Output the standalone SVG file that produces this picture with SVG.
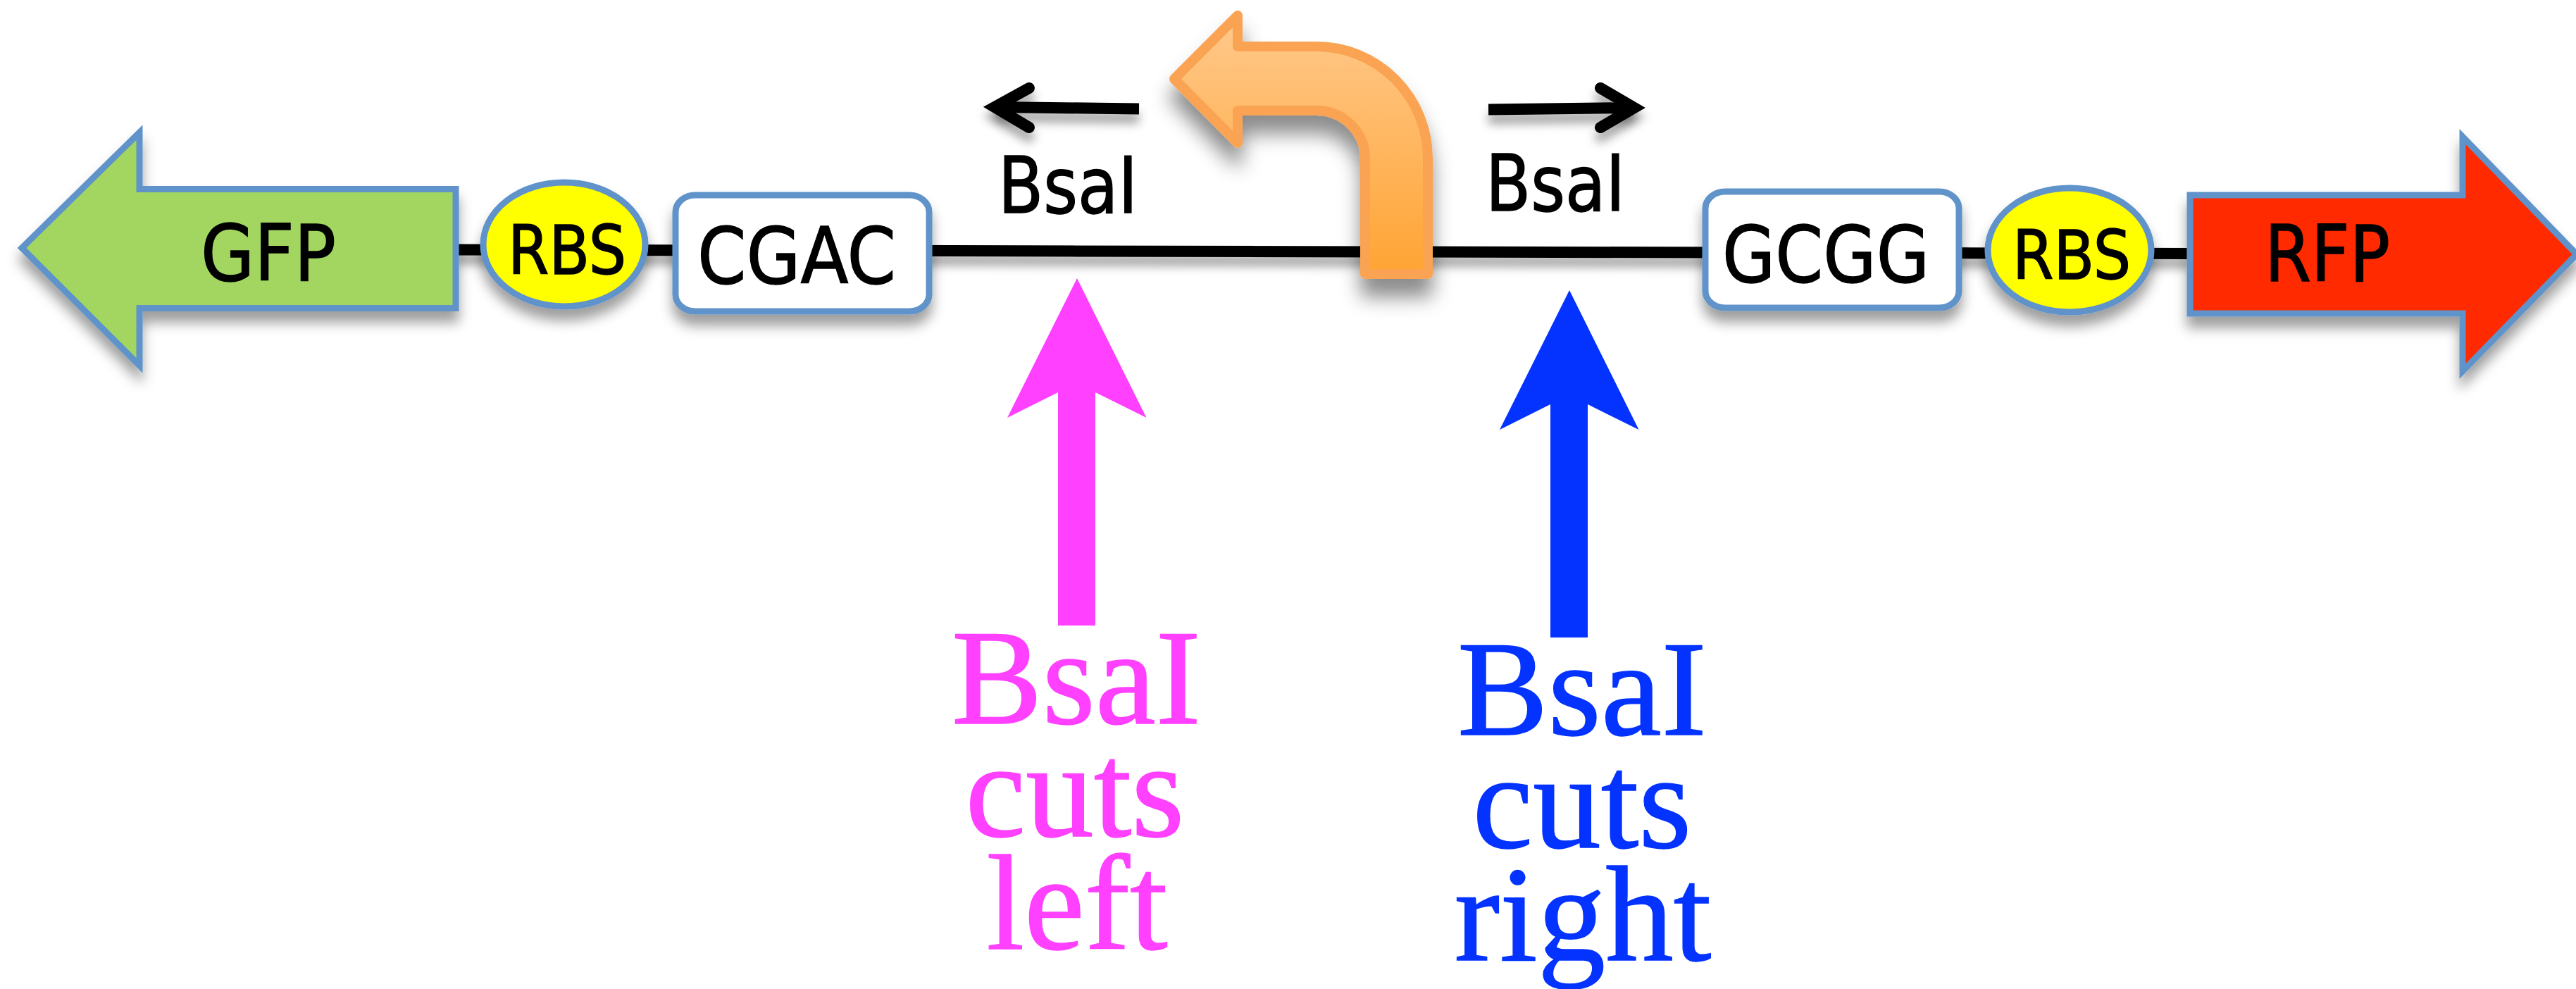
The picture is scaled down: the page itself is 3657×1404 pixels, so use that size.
<svg xmlns="http://www.w3.org/2000/svg" width="3657" height="1404" viewBox="0 0 3657 1404">
<style>
.s{font-family:"DejaVu Sans","Liberation Sans",sans-serif;fill:#000;stroke:#000;stroke-width:1.5;text-anchor:middle}
.big{font-size:111px}
.rbs{font-size:97px}
.t{font-family:"Liberation Serif","Times New Roman",serif;font-size:193px;text-anchor:middle;stroke-width:1.5}
.shape{stroke:#5F93C9;stroke-width:9;filter:url(#sh)}
.wire{fill:none;stroke:#000;stroke-width:16;filter:url(#shl)}
.m{fill:#FF40FF;stroke:#FF40FF}
.b{fill:#0433FF;stroke:#0433FF}
.arrow{stroke:none}
</style>
<defs>
<filter id="sh" filterUnits="userSpaceOnUse" x="0" y="0" width="3657" height="1404">
<feDropShadow dx="0" dy="16" stdDeviation="9" flood-color="#000" flood-opacity="0.38"/>
</filter>
<filter id="shl" filterUnits="userSpaceOnUse" x="0" y="0" width="3657" height="1404">
<feDropShadow dx="0" dy="13" stdDeviation="7" flood-color="#000" flood-opacity="0.35"/>
</filter>
<filter id="sho" filterUnits="userSpaceOnUse" x="0" y="0" width="3657" height="1404">
<feDropShadow dx="0" dy="26" stdDeviation="14" flood-color="#000" flood-opacity="0.45"/>
</filter>
<linearGradient id="og" x1="0" y1="0" x2="0" y2="1">
<stop offset="0" stop-color="#FFC98C"/>
<stop offset="1" stop-color="#FFA433"/>
</linearGradient>
</defs>
<rect width="3657" height="1404" fill="#fff"/>
<g id="connectors">
<path class="wire" d="M647 354.500L3109 360"/>
</g>
<g id="gfp"><path class="shape" fill="#A2D660" d="M647 268.500H198V188L31 352L198 519V437.500H647Z"/>
<text class="s big" x="381" y="398" textLength="192" lengthAdjust="spacingAndGlyphs">GFP</text></g>
<g id="rbs-left"><ellipse class="shape" fill="#FFFF00" cx="801" cy="347" rx="115" ry="88"/>
<text class="s rbs" x="805" y="389" textLength="168" lengthAdjust="spacingAndGlyphs">RBS</text></g>
<g id="cgac"><rect class="shape" fill="#fff" x="959" y="277" width="360" height="165" rx="28" ry="24"/>
<text class="s big" x="1131" y="402" textLength="282" lengthAdjust="spacingAndGlyphs">CGAC</text></g>
<g id="gcgg"><rect class="shape" fill="#fff" x="2421" y="272" width="360" height="165" rx="28" ry="24"/>
<text class="s big" x="2592" y="400" textLength="294" lengthAdjust="spacingAndGlyphs">GCGG</text></g>
<g id="rbs-right"><ellipse class="shape" fill="#FFFF00" cx="2938" cy="355" rx="116" ry="88"/>
<text class="s rbs" x="2941" y="396" textLength="168" lengthAdjust="spacingAndGlyphs">RBS</text></g>
<g id="rfp"><path class="shape" fill="#FF2A00" d="M3109 277H3496V194L3658 361L3496 527V445H3109Z"/>
<text class="s big" x="3304" y="399" textLength="178" lengthAdjust="spacingAndGlyphs">RFP</text></g>
<g id="promoter"><path filter="url(#sho)" fill="url(#og)" stroke="#F9A353" stroke-width="14" stroke-linejoin="round" d="M1938 389H2027V225A158 159 0 0 0 1869 66H1757V22L1667 112L1757 203V157H1869A69 68 0 0 1 1938 225Z"/></g>
<g id="site-arrows">
<path class="wire" d="M1617 154.500L1415 152"/>
<path class="wire" stroke-linejoin="miter" d="M1461 125L1412 152L1461 181" style="stroke-linecap:round"/>
<path class="wire" d="M2113 155.500L2318 153"/>
<path class="wire" stroke-linejoin="miter" d="M2272 125L2320 153L2272 181" style="stroke-linecap:round"/>
</g>
<g id="label-bsai-left"><text class="s big" x="1516" y="302" textLength="198" lengthAdjust="spacingAndGlyphs">BsaI</text></g>
<g id="label-bsai-right"><text class="s big" x="2208" y="299" textLength="198" lengthAdjust="spacingAndGlyphs">BsaI</text></g>
<g id="cut-left">
<path class="m arrow" d="M1529 395L1627.500 593L1555 557V888H1502V557L1430 593Z"/>
<text class="t m" x="1528" y="1027">BsaI</text>
<text class="t m" x="1526" y="1187">cuts</text>
<text class="t m" x="1529" y="1347">left</text>
</g>
<g id="cut-right">
<path class="b arrow" d="M2228 412L2326.500 610L2254 574V905H2201V574L2129 610Z"/>
<text class="t b" x="2246" y="1043">BsaI</text>
<text class="t b" x="2246" y="1203">cuts</text>
<text class="t b" x="2247" y="1363">right</text>
</g>
</svg>
